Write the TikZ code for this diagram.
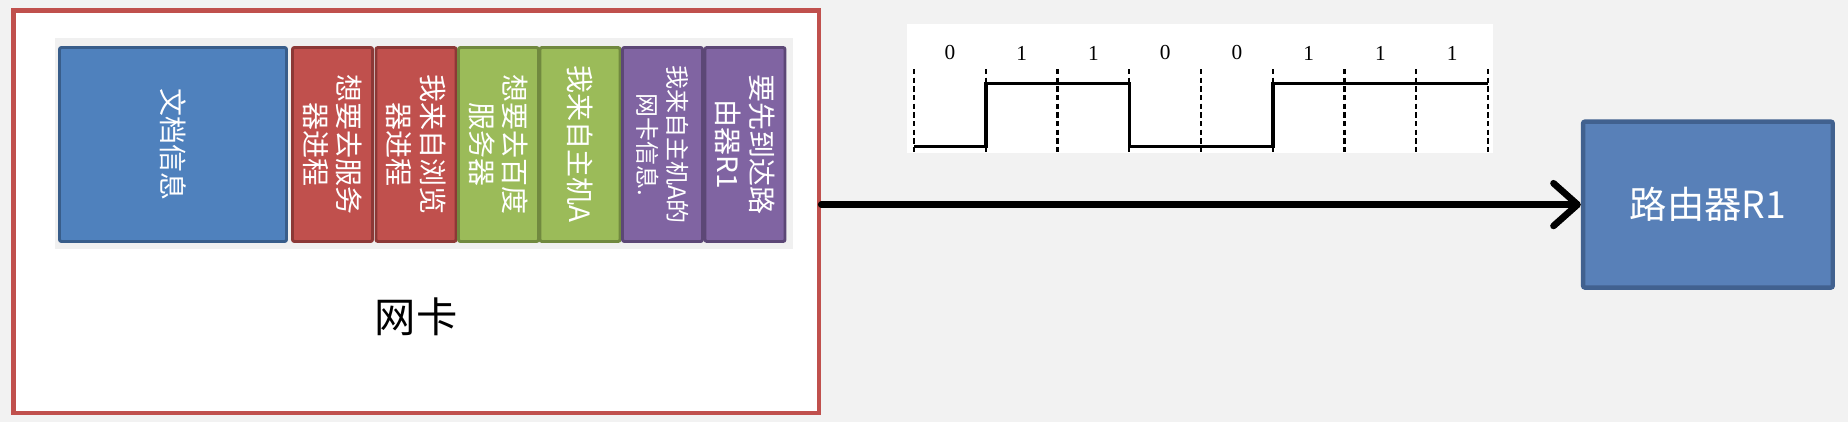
\documentclass[tikz,border=0pt]{standalone}
\usepackage{fontspec}
\newfontfamily\cjk{Noto Sans CJK SC}
\newfontfamily\bitserif{Liberation Serif}
\usetikzlibrary{arrows.meta}
\definecolor{bgc}{HTML}{F2F2F2}
\definecolor{panelc}{HTML}{F0F0F0}
\definecolor{nicred}{HTML}{C0504D}
\definecolor{bluef}{HTML}{4F81BD}
\definecolor{blued}{HTML}{385D8A}
\definecolor{redf}{HTML}{C0504D}
\definecolor{redd}{HTML}{8C3836}
\definecolor{greenf}{HTML}{9BBB59}
\definecolor{greend}{HTML}{71893F}
\definecolor{purplef}{HTML}{8064A2}
\definecolor{purpled}{HTML}{5C4776}
\definecolor{routerf}{HTML}{5880B8}
\definecolor{routerd}{HTML}{41618F}
\begin{document}
\begin{tikzpicture}[x=0.75pt,y=-0.75pt,
  nicbox/.style={draw=nicred, fill=white, line width=3.3pt, minimum width=604.3pt, minimum height=301.8pt, inner sep=0pt},
  strip/.style={draw, rotate=-90, line width=2.2pt, rounded corners=1.5pt, minimum width=145.5pt, minimum height=60pt, inner sep=0pt, text=white, align=center, font=\cjk\fontsize{21}{25}\selectfont},
  bluestrip/.style={strip, fill=bluef, draw=blued, minimum height=170.25pt},
  redstrip/.style={strip, fill=redf, draw=redd},
  greenstrip/.style={strip, fill=greenf, draw=greend},
  purplestrip/.style={strip, fill=purplef, draw=purpled},
  routerbox/.style={draw=routerd, fill=routerf, line width=3.3pt, rounded corners=1.5pt, minimum width=187.3pt, minimum height=124.5pt, text=white, font=\cjk\fontsize{28}{34}\selectfont},
  bitdash/.style={line width=1.6pt, dash pattern=on 4pt off 2.5pt},
  wave/.style={line width=2.6pt, line join=miter},
  digit/.style={font=\bitserif\fontsize{16}{18}\selectfont, inner sep=0pt},
  link/.style={line width=5pt, line cap=round, -{Straight Barb[length=18pt, width=32pt, line cap=round, line join=round]}}
]
\useasboundingbox (0,0) rectangle (1848,422);
\fill[bgc] (0,0) rectangle (1848,422);

% network card box
\node[nicbox] (nic) at (416.2,211.5) {};
\fill[panelc] (55,37.7) rectangle (792.7,249.3);

% strips
\node[bluestrip]   (s0) at (173,144.5) {文档信息};
\node[redstrip]    (s1) at (332.5,144.5) {想要去服务\\器进程};
\node[redstrip]    (s2) at (416,144.5) {我来自浏览\\器进程};
\node[greenstrip]  (s3) at (498.5,144.5) {想要去百度\\服务器};
\node[greenstrip]  (s4) at (580,144.5) {我来自主机A};
\node[purplestrip, font=\cjk\fontsize{18}{22}\selectfont] (s5) at (662.5,144.5) {我来自主机A的\\网卡信息.};
\node[purplestrip] (s6) at (745,144.5) {要先到达路\\由器R1};

\node[font=\cjk\fontsize{31}{36}\selectfont] (niclabel) at (416,317) {网卡};

% bit signal
\fill[white] (907,24) rectangle (1493,153);
\foreach \i in {0,...,8}
  \draw[bitdash] (914+71.75*\i,69) -- (914+71.75*\i,153);
\foreach \b [count=\i from 0] in {0,1,1,0,0,1,1,1}
  \node[digit] (b\i) at (950+71.75*\i,53) {\b};
\draw[wave] (914,146.7) -- (986,146.7) -- (986,83.3) -- (1129.5,83.3) -- (1129.5,146.7) -- (1273,146.7) -- (1273,83.3) -- (1488,83.3);

% router
\node[routerbox] (router) at (1707.9,204.6) {路由器R1};

% link
\draw[link] (nic.east |- router.west) -- (router.west);
\end{tikzpicture}
\end{document}
